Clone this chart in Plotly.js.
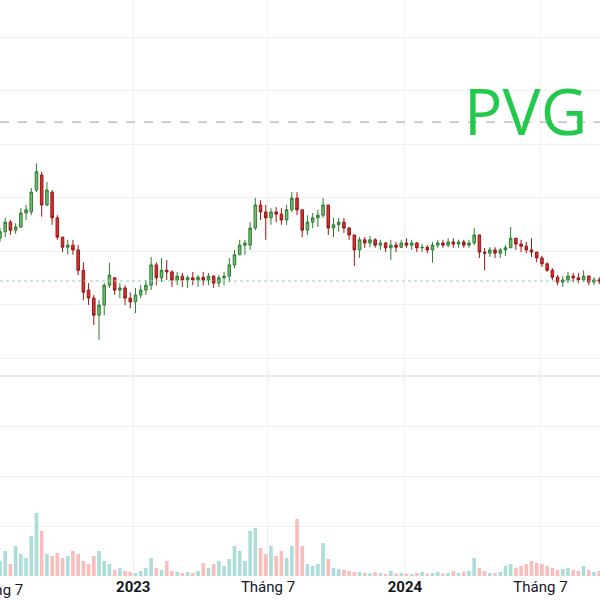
<!DOCTYPE html>
<html>
<head>
<meta charset="utf-8">
<script src="https://cdn.plot.ly/plotly-3.0.1.min.js"></script>
<style>html,body{margin:0;padding:0;background:#fff;}#chart{width:600px;height:600px;}</style>
</head>
<body>
<div id="chart"></div>
<script>
// Weekly candles (Wednesday of each week)
const dates = [
"2022-07-06","2022-07-13","2022-07-20","2022-07-27","2022-08-03","2022-08-10","2022-08-17","2022-08-24","2022-08-31","2022-09-07",
"2022-09-14","2022-09-21","2022-09-28","2022-10-05","2022-10-12","2022-10-19","2022-10-26","2022-11-02","2022-11-09","2022-11-16",
"2022-11-23","2022-11-30","2022-12-07","2022-12-14","2022-12-21","2022-12-28","2023-01-04","2023-01-11","2023-01-18","2023-01-25",
"2023-02-01","2023-02-08","2023-02-15","2023-02-22","2023-03-01","2023-03-08","2023-03-15","2023-03-22","2023-03-29","2023-04-05",
"2023-04-12","2023-04-19","2023-04-26","2023-05-03","2023-05-10","2023-05-17","2023-05-24","2023-05-31","2023-06-07","2023-06-14",
"2023-06-21","2023-06-28","2023-07-05","2023-07-12","2023-07-19","2023-07-26","2023-08-02","2023-08-09","2023-08-16","2023-08-23",
"2023-08-30","2023-09-06","2023-09-13","2023-09-20","2023-09-27","2023-10-04","2023-10-11","2023-10-18","2023-10-25","2023-11-01",
"2023-11-08","2023-11-15","2023-11-22","2023-11-29","2023-12-06","2023-12-13","2023-12-20","2023-12-27","2024-01-03","2024-01-10",
"2024-01-17","2024-01-24","2024-01-31","2024-02-07","2024-02-14","2024-02-21","2024-02-28","2024-03-06","2024-03-13","2024-03-20",
"2024-03-27","2024-04-03","2024-04-10","2024-04-17","2024-04-24","2024-05-01","2024-05-08","2024-05-15","2024-05-22","2024-05-29",
"2024-06-05","2024-06-12","2024-06-19","2024-06-26","2024-07-03","2024-07-10","2024-07-17","2024-07-24","2024-07-31","2024-08-07",
"2024-08-14","2024-08-21","2024-08-28","2024-09-04","2024-09-11","2024-09-18"
];
const openP = [
10.24,10.36,10.54,10.39,10.45,10.71,10.73,11.14,11.42,10.86,
11.10,10.62,10.26,10.07,10.11,10.02,9.64,9.27,9.12,8.80,
8.99,9.36,9.50,9.27,9.31,9.12,9.05,9.18,9.27,9.36,
9.74,9.50,9.64,9.61,9.46,9.53,9.46,9.50,9.46,9.51,
9.46,9.53,9.40,9.50,9.53,9.74,9.93,10.11,10.11,10.43,
10.86,10.73,10.62,10.73,10.69,10.58,10.77,10.99,10.77,10.39,
10.54,10.62,10.67,10.86,10.43,10.49,10.54,10.43,10.30,10.02,
10.21,10.15,10.21,10.11,10.15,10.06,10.11,10.07,10.15,10.11,
10.15,10.06,10.07,10.02,10.11,10.15,10.11,10.17,10.13,10.17,
10.11,10.15,10.30,9.98,9.96,10.02,9.96,10.02,10.06,10.24,
10.13,10.09,10.02,9.98,9.87,9.76,9.64,9.51,9.42,9.46,
9.53,9.50,9.46,9.53,9.42,9.46
];
const highP = [
10.43,10.62,10.58,10.52,10.80,10.86,11.18,11.64,11.48,11.29,
11.14,10.67,10.26,10.21,10.21,10.11,9.79,9.40,9.18,9.08,
9.40,9.78,9.51,9.40,9.36,9.23,9.31,9.36,9.46,9.89,
9.79,9.87,9.83,9.64,9.61,9.59,9.55,9.61,9.55,9.61,
9.59,9.55,9.55,9.61,9.87,10.02,10.21,10.21,10.54,10.99,
10.95,10.86,10.80,10.82,10.80,10.86,11.10,11.10,10.77,10.67,
10.71,10.77,10.99,10.86,10.62,10.62,10.62,10.45,10.30,10.26,
10.26,10.28,10.24,10.21,10.17,10.21,10.17,10.21,10.24,10.21,
10.17,10.13,10.11,10.17,10.21,10.21,10.24,10.24,10.21,10.21,
10.21,10.43,10.30,10.06,10.07,10.07,10.06,10.11,10.45,10.24,
10.21,10.17,10.24,9.98,9.91,9.79,9.68,9.55,9.53,9.61,
9.59,9.59,9.64,9.55,9.51,9.51
];
const lowP = [
10.17,10.26,10.30,10.32,10.43,10.58,10.67,11.10,10.64,10.84,
10.49,10.21,9.98,9.93,9.93,9.55,9.08,8.99,8.62,8.34,
8.80,9.31,9.18,9.12,8.99,8.93,8.84,9.12,9.18,9.27,
9.36,9.42,9.46,9.33,9.36,9.33,9.31,9.36,9.33,9.36,
9.36,9.31,9.33,9.36,9.42,9.68,9.93,9.93,10.02,10.39,
10.58,10.21,10.49,10.54,10.49,10.49,10.73,10.67,10.26,10.30,
10.43,10.45,10.62,10.30,10.26,10.36,10.34,10.21,9.72,9.87,
10.06,10.07,10.06,10.02,9.98,9.83,9.98,10.06,10.06,10.02,
9.98,9.98,9.96,9.78,10.06,10.06,10.07,10.06,10.06,10.06,
10.06,10.11,9.87,9.64,9.89,9.87,9.87,9.91,10.06,10.02,
9.98,9.96,9.89,9.79,9.70,9.61,9.46,9.36,9.33,9.40,
9.42,9.40,9.42,9.36,9.36,9.38
];
const closeP = [
10.36,10.54,10.39,10.45,10.71,10.77,11.10,11.48,10.86,11.14,
10.62,10.26,10.07,10.11,10.02,9.64,9.23,9.12,8.80,8.99,
9.36,9.55,9.27,9.31,9.12,9.05,9.18,9.27,9.36,9.74,
9.50,9.64,9.61,9.46,9.53,9.46,9.50,9.46,9.51,9.46,
9.53,9.40,9.50,9.53,9.74,9.93,10.11,10.15,10.43,10.86,
10.73,10.62,10.73,10.69,10.58,10.77,10.99,10.77,10.39,10.54,
10.62,10.67,10.86,10.43,10.49,10.54,10.43,10.30,10.02,10.21,
10.15,10.21,10.11,10.15,10.06,10.11,10.07,10.15,10.11,10.15,
10.06,10.07,10.02,10.11,10.15,10.11,10.17,10.13,10.17,10.11,
10.15,10.30,9.98,9.96,10.02,9.96,10.02,10.06,10.24,10.13,
10.09,10.02,9.98,9.87,9.76,9.64,9.51,9.42,9.46,9.53,
9.50,9.46,9.53,9.42,9.46,9.44
];
const volume = [
0.30,0.50,0.24,0.60,0.44,0.36,0.80,1.26,0.90,0.44,
0.40,0.46,0.36,0.40,0.50,0.44,0.30,0.24,0.40,0.50,
0.30,0.24,0.12,0.16,0.10,0.08,0.06,0.10,0.16,0.36,
0.16,0.12,0.30,0.10,0.08,0.06,0.08,0.06,0.10,0.26,
0.16,0.24,0.30,0.20,0.34,0.60,0.50,0.30,0.90,0.96,
0.56,0.44,0.60,0.40,0.50,0.36,0.60,1.14,0.60,0.24,
0.20,0.24,0.66,0.34,0.16,0.14,0.12,0.10,0.08,0.08,
0.06,0.05,0.08,0.06,0.04,0.10,0.05,0.06,0.05,0.04,
0.06,0.08,0.05,0.06,0.08,0.05,0.06,0.10,0.06,0.08,
0.10,0.36,0.16,0.10,0.06,0.06,0.08,0.20,0.24,0.16,
0.20,0.24,0.30,0.26,0.24,0.20,0.16,0.12,0.14,0.16,
0.12,0.10,0.20,0.12,0.08,0.10
];
const tickDates = ["2023-01-01","2023-07-01","2024-01-01","2024-07-01"];
const tickLabels = ["<b>2023</b>","Tháng 7","<b>2024</b>","Tháng 7"];
const symbol = "PVG";
const refLevel = 12.41;   // dashed reference line
const lastPrice = 9.44;   // last price line

const volColors = closeP.map((c,i)=> c >= openP[i] ? "rgba(38,166,154,0.38)" : "rgba(239,83,80,0.38)");

const split = 200/576;
const gridC = "#f0f1f4";

const traces = [
  {
    type: "candlestick", x: dates, open: openP, high: highP, low: lowP, close: closeP,
    xaxis: "x", yaxis: "y",
    increasing: {line: {color: "#2e7d32", width: 1}, fillcolor: "#6fbf73"},
    decreasing: {line: {color: "#9b1515", width: 1}, fillcolor: "#d13535"},
    whiskerwidth: 0, hoverinfo: "skip", showlegend: false
  },
  {
    type: "bar", x: dates, y: volume, xaxis: "x", yaxis: "y2",
    marker: {color: volColors, line: {width: 0}}, hoverinfo: "skip", showlegend: false
  }
];

const layout = {
  width: 600, height: 600,
  margin: {l: 0, r: 0, t: 0, b: 24, pad: 0},
  paper_bgcolor: "#ffffff", plot_bgcolor: "#ffffff",
  showlegend: false, bargap: 0.3,
  font: {family: "Roboto, 'Open Sans', sans-serif", color: "#131722", size: 15},
  xaxis: {
    type: "date", range: ["2022-07-06", "2024-09-19"], anchor: "y2",
    rangeslider: {visible: false},
    tickvals: tickDates, ticktext: tickLabels, ticks: "",
    showgrid: true, gridcolor: gridC, gridwidth: 1,
    showline: false, zeroline: false,
    tickfont: {size: 15, color: "#131722"}
  },
  yaxis: {
    domain: [split, 1], range: [7.664, 14.692],
    tickvals: [8,9,10,11,12,13,14], showticklabels: false, ticks: "",
    showgrid: true, gridcolor: gridC, zeroline: false, showline: false, fixedrange: true
  },
  yaxis2: {
    domain: [0, split], range: [0, 4],
    tickvals: [1,2,3], showticklabels: false, ticks: "",
    showgrid: true, gridcolor: gridC, zeroline: false, showline: false
  },
  shapes: [
    {type: "line", xref: "paper", yref: "y", x0: 0, x1: 1, y0: refLevel, y1: refLevel,
     line: {color: "#9a9ca3", width: 1, dash: "dash"}},
    {type: "line", xref: "paper", yref: "y", x0: 0, x1: 1, y0: lastPrice, y1: lastPrice,
     line: {color: "#8fd3b8", width: 1, dash: "dot"}},
    {type: "line", xref: "paper", yref: "paper", x0: 0, x1: 1, y0: split, y1: split,
     line: {color: "#e0e3eb", width: 1.5}}
  ],
  annotations: [
    {text: symbol, xref: "paper", yref: "paper", x: 0.875, y: (576-110)/576,
     xanchor: "center", yanchor: "middle", showarrow: false,
     font: {family: "'Open Sans', sans-serif", size: 64, color: "#22c94b"}},
    {text: "Tháng 7", xref: "paper", yref: "paper", x: -0.0062, y: 0,
     xanchor: "center", yanchor: "top", yshift: -3, showarrow: false,
     font: {size: 15, color: "#131722"}}
  ]
};

Plotly.newPlot("chart", traces, layout, {staticPlot: true, displayModeBar: false});
</script>
</body>
</html>
